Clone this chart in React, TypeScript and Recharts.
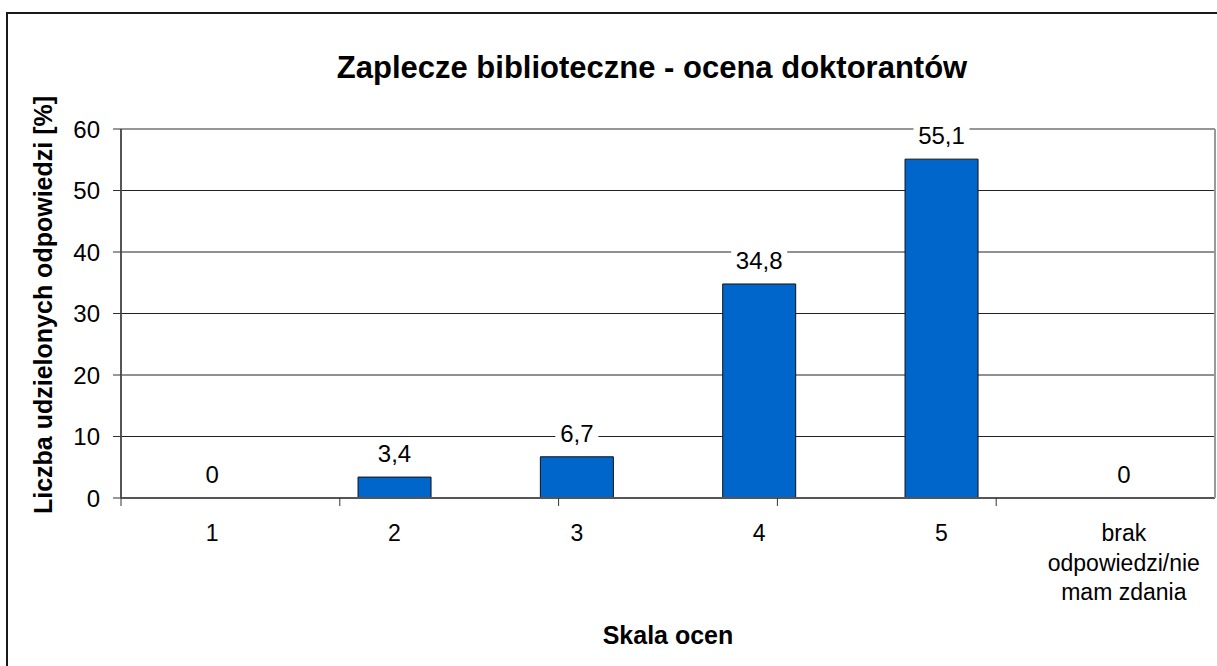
import { ComposedChart, Bar, Line, XAxis, YAxis, CartesianGrid, LabelList } from 'recharts';

const FONT = '"Liberation Sans", Arial, sans-serif';

const categories = ['1', '2', '3', '4', '5', 'brak\nodpowiedzi/nie\nmam zdania'];
const values = [0, 3.4, 6.7, 34.8, 55.1, 0];
const yTicks = [0, 10, 20, 30, 40, 50, 60];
const edgeTicks = [0, 1, 2, 3, 4, 5, 6];

const title = 'Zaplecze biblioteczne - ocena doktorantów';
const yTitle = 'Liczba udzielonych odpowiedzi [%]';
const xTitle = 'Skala ocen';

const data = categories.map((c, i) => ({ cat: c, value: values[i] }));

// multi-line category label
function CatTick({ x, y, payload }: any) {
  const lines = String(payload.value).split('\n');
  return (
    <text x={x} y={y + 42} textAnchor="middle" fontSize={23} fill="#000" fontFamily={FONT}>
      {lines.map((l, i) => (
        <tspan key={i} x={x} dy={i === 0 ? 0 : 29.5}>
          {l}
        </tspan>
      ))}
    </text>
  );
}

// tick marks only, no text
const NoText = () => <g />;

// value label with white box behind (hides the gridline)
function ValueLabel(props: any) {
  const { x, y, width, value } = props;
  const cx = x + (width || 0) / 2;
  const text = String(value).replace('.', ',');
  const w = text.length * 13 + 4;
  return (
    <g>
      <rect x={cx - w / 2} y={y - 36} width={w} height={27} fill="#fff" />
      <text x={cx} y={y - 15} textAnchor="middle" fontSize={24} fill="#000" fontFamily={FONT}>
        {text}
      </text>
    </g>
  );
}

export default function App() {
  return (
    <div style={{ position: 'absolute', left: 0, top: 0, width: 1217, height: 666, overflow: 'hidden', background: '#fff' }}>
      {/* outer frame */}
      <div style={{ position: 'absolute', left: 6, top: 12, width: 1300, height: 800, border: '2px solid #1a1a1a' }} />

      <div style={{ position: 'absolute', left: 0, top: 0 }}>
        <ComposedChart
          width={1217}
          height={666}
          data={data}
          margin={{ top: 128, right: 1, left: 61, bottom: 67 }}
          barCategoryGap="30%"
        >
          <CartesianGrid vertical={false} stroke="#222" fill="none" />
          <Bar dataKey="value" xAxisId="zCat" fill="#0066CC" stroke="#111" strokeWidth={1} isAnimationActive={false} />
          <Line
            dataKey="value"
            xAxisId="zCat"
            stroke="none"
            dot={false}
            activeDot={false}
            isAnimationActive={false}
          >
            <LabelList dataKey="value" content={ValueLabel} />
          </Line>
          <XAxis
            xAxisId="aEdges"
            type="number"
            domain={[0, 6]}
            ticks={edgeTicks}
            height={1}
            tick={NoText}
            tickSize={8}
            axisLine={{ stroke: '#555', strokeWidth: 2 }}
            tickLine={{ stroke: '#333' }}
          />
          <XAxis
            xAxisId="zCat"
            dataKey="cat"
            height={100}
            axisLine={false}
            tickLine={false}
            tickSize={0}
            tickMargin={0}
            interval={0}
            tick={<CatTick />}
          />
          <XAxis xAxisId="top" orientation="top" height={1} tick={false} tickLine={false} axisLine={{ stroke: '#999', strokeWidth: 1.5 }} />
          <YAxis
            domain={[0, 60]}
            ticks={yTicks}
            width={60}
            tickSize={8}
            tickMargin={13}
            axisLine={{ stroke: '#555', strokeWidth: 2 }}
            tickLine={{ stroke: '#333' }}
            tick={{ fontSize: 24, fill: '#000', fontFamily: FONT }}
          />
          <YAxis yAxisId="right" orientation="right" width={1} tick={false} tickLine={false} axisLine={{ stroke: '#999', strokeWidth: 2 }} />
        </ComposedChart>
      </div>

      <svg width={1217} height={666} style={{ position: 'absolute', left: 0, top: 0, pointerEvents: 'none' }}>
        <text x={652} y={78} textAnchor="middle" fontSize={31} fontWeight="bold" fontFamily={FONT} fill="#000">
          {title}
        </text>
        <text x={668} y={644} textAnchor="middle" fontSize={25} fontWeight="bold" fontFamily={FONT} fill="#000">
          {xTitle}
        </text>
        <text
          transform="translate(52,305) rotate(-90)"
          textAnchor="middle"
          fontSize={25}
          fontWeight="bold"
          fontFamily={FONT}
          fill="#000"
        >
          {yTitle}
        </text>
      </svg>
    </div>
  );
}
